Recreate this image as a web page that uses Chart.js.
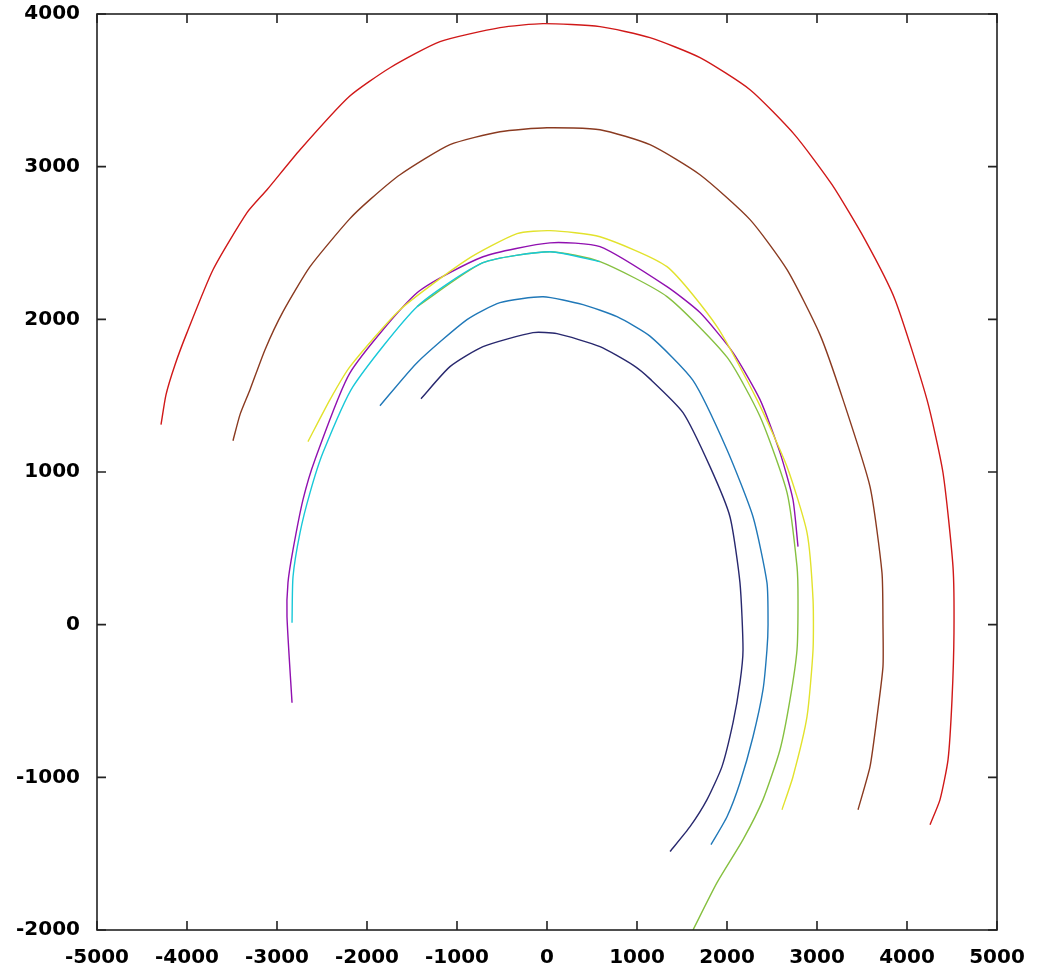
<!DOCTYPE html>
<html>
<head>
<meta charset="utf-8">
<script src="https://cdn.jsdelivr.net/npm/chart.js@4.4.1/dist/chart.umd.min.js"></script>
<style>
  html, body { margin: 0; padding: 0; background: #fff; }
  #plot { display: block; }
</style>
</head>
<body>
<canvas id="plot" width="1041" height="971"></canvas>
<script>
// axis ranges and tick labels
var xTicks = [-5000, -4000, -3000, -2000, -1000, 0, 1000, 2000, 3000, 4000, 5000];
var yTicks = [-2000, -1000, 0, 1000, 2000, 3000, 4000];

// curves, [x, y]
var redCurve = [[-4289,1310],[-4233,1507],[-4133,1703],[-4000,1913],[-3711,2325],[-3333,2699],[-3111,2849],[-2744,3111],[-2200,3458],[-1744,3648],[-1189,3819],[-522,3911],[-44,3937],[589,3917],[1144,3845],[1700,3714],[2256,3504],[2750,3210],[3167,2882],[3533,2522],[3867,2129],[4222,1474],[4400,995],[4511,380],[4522,-52],[4500,-491],[4456,-884],[4367,-1146],[4256,-1310]];
var brownCurve = [[-3489,1205],[-3411,1376],[-3300,1539],[-3133,1801],[-2933,2050],[-2633,2345],[-2200,2653],[-1967,2784],[-1633,2947],[-1078,3144],[-522,3229],[0,3255],[589,3242],[1144,3144],[1700,2947],[2256,2653],[2667,2325],[3033,1900],[3289,1474],[3589,904],[3722,341],[3733,0],[3733,-275],[3667,-603],[3589,-930],[3456,-1212]];
var yellowCurve = [[-2656,1199],[-2411,1474],[-2189,1690],[-1633,2063],[-889,2391],[-333,2561],[33,2581],[589,2541],[1333,2345],[1889,1952],[2333,1474],[2667,1035],[2889,603],[2956,164],[2956,-164],[2889,-603],[2733,-996],[2611,-1212]];
var magentaCurve = [[-2833,-511],[-2889,52],[-2878,275],[-2822,491],[-2711,819],[-2578,1081],[-2189,1650],[-1444,2174],[-711,2410],[33,2501],[589,2476],[1333,2214],[1700,2044],[2067,1782],[2367,1474],[2589,1127],[2733,819],[2789,511]];
var cyanCurve = [[-2833,13],[-2822,314],[-2744,603],[-2633,865],[-2489,1127],[-2156,1559],[-1444,2083],[-711,2371],[33,2443],[589,2378]];
var greenCurve = [[-1444,2083],[-711,2371],[33,2443],[589,2378],[1333,2149],[2000,1752],[2367,1363],[2667,865],[2778,380],[2789,164],[2778,-164],[2700,-491],[2589,-819],[2400,-1146],[2178,-1408],[1889,-1690],[1622,-2000]];
var blueCurve = [[-1856,1434],[-1444,1716],[-889,1998],[-522,2109],[-44,2148],[400,2096],[778,2017],[1144,1890],[1622,1600],[2000,1146],[2289,707],[2444,275],[2456,0],[2444,-164],[2400,-426],[2289,-734],[2144,-1035],[2000,-1258],[1822,-1441]];
var navyCurve = [[-1400,1480],[-1078,1690],[-711,1821],[-156,1913],[111,1906],[589,1821],[956,1700],[1144,1610],[1511,1389],[1811,1035],[2033,707],[2144,275],[2178,-164],[2144,-380],[2067,-642],[1944,-930],[1778,-1146],[1589,-1323],[1367,-1486]];

function pts(arr) {
  return arr.map(function (p) { return { x: p[0], y: p[1] }; });
}

function line(arr, color) {
  return {
    data: pts(arr),
    showLine: true,
    borderColor: color,
    borderWidth: 1.4,
    pointRadius: 0,
    tension: 0.2,
    fill: false
  };
}

// frame with inward ticks on all four sides
var framePlugin = {
  id: 'frame',
  afterDraw: function (chart) {
    var ctx = chart.ctx;
    var a = chart.chartArea;
    var xs = chart.scales.x, ys = chart.scales.y;
    var len = 9;
    ctx.save();
    ctx.strokeStyle = '#222';
    ctx.lineWidth = 1.6;
    ctx.beginPath();
    xTicks.forEach(function (v) {
      var px = xs.getPixelForValue(v);
      ctx.moveTo(px, a.bottom); ctx.lineTo(px, a.bottom - len);
      ctx.moveTo(px, a.top); ctx.lineTo(px, a.top + len);
    });
    yTicks.forEach(function (v) {
      var py = ys.getPixelForValue(v);
      ctx.moveTo(a.left, py); ctx.lineTo(a.left + len, py);
      ctx.moveTo(a.right, py); ctx.lineTo(a.right - len, py);
    });
    ctx.stroke();
    ctx.strokeRect(a.left, a.top, a.right - a.left, a.bottom - a.top);
    ctx.restore();
  }
};

var tickFont = { family: '"DejaVu Sans", sans-serif', size: 20, weight: 'bold' };
var plain = function (v) { return String(v); };

new Chart(document.getElementById('plot').getContext('2d'), {
  type: 'scatter',
  data: {
    datasets: [
      line(redCurve, '#d01818'),
      line(brownCurve, '#8a3a20'),
      line(yellowCurve, '#e2e22c'),
      line(cyanCurve, '#18c8d8'),
      line(greenCurve, '#86c040'),
      line(magentaCurve, '#9010b0'),
      line(blueCurve, '#2078b8'),
      line(navyCurve, '#28286e')
    ]
  },
  options: {
    responsive: false,
    animation: false,
    devicePixelRatio: 1,
    layout: { padding: { left: 0, right: 44, top: 14, bottom: 0 } },
    plugins: {
      legend: { display: false },
      tooltip: { enabled: false }
    },
    scales: {
      x: {
        type: 'linear',
        min: -5000,
        max: 5000,
        afterFit: function (s) { s.height = 41; s.paddingLeft = 0; s.paddingRight = 0; },
        afterBuildTicks: function (s) { s.ticks = xTicks.map(function (v) { return { value: v }; }); },
        grid: { display: false, drawTicks: false },
        border: { display: false },
        ticks: { color: '#000', font: tickFont, padding: 16, maxRotation: 0, autoSkip: false, callback: plain }
      },
      y: {
        type: 'linear',
        min: -2000,
        max: 4000,
        afterFit: function (s) { s.width = 97; s.paddingTop = 0; s.paddingBottom = 0; },
        afterBuildTicks: function (s) { s.ticks = yTicks.map(function (v) { return { value: v }; }); },
        grid: { display: false, drawTicks: false },
        border: { display: false },
        ticks: { color: '#000', font: tickFont, padding: 17, autoSkip: false, callback: plain }
      }
    }
  },
  plugins: [framePlugin]
});
</script>
</body>
</html>
